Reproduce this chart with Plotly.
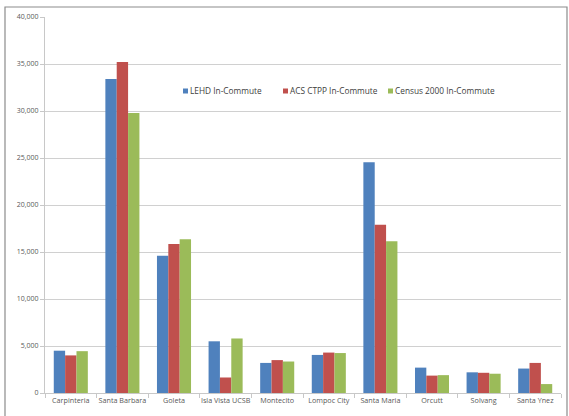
import plotly.graph_objects as go

places = ["Carpinteria", "Santa Barbara", "Goleta", "Isla Vista UCSB", "Montecito",
          "Lompoc City", "Santa Maria", "Orcutt", "Solvang", "Santa Ynez"]
lehd = [4500, 33400, 14600, 5500, 3200, 4050, 24550, 2700, 2200, 2600]
acs_ctpp = [4000, 35200, 15850, 1650, 3500, 4300, 17900, 1850, 2150, 3200]
census_2000 = [4450, 29800, 16350, 5800, 3350, 4250, 16150, 1900, 2050, 950]
y_ticks = list(range(0, 40001, 5000))

series = [("LEHD In-Commute", lehd, "#4F81BD"),
          ("ACS CTPP In-Commute", acs_ctpp, "#C0504D"),
          ("Census 2000 In-Commute", census_2000, "#9BBB59")]

W, H = 569, 416
ml, mr, mt, mb = 45, 8, 17, 23
pw, ph = W - ml - mr, H - mt - mb

fig = go.Figure()
for name, vals, col in series:
    fig.add_trace(go.Bar(x=places, y=vals, name=name, marker_color=col,
                         marker_line_width=0, showlegend=False))


def px_x(p):
    return (p - ml) / pw


def px_y(p):
    return 1 - (p - mt) / ph


# outer chart frame
fig.add_shape(type="rect", xref="paper", yref="paper",
              x0=px_x(5), x1=px_x(567), y0=px_y(420), y1=px_y(7),
              line=dict(color="#8c8c8c", width=1.2), fillcolor="rgba(0,0,0,0)",
              layer="below")

# legend: small colour keys followed by the series names
legend_left = [183, 283, 388]
legend_mid = 91
for (name, _, col), lx in zip(series, legend_left):
    fig.add_shape(type="rect", xref="paper", yref="paper",
                  x0=px_x(lx), x1=px_x(lx + 5),
                  y0=px_y(legend_mid + 2.5), y1=px_y(legend_mid - 2.5),
                  line_width=0, fillcolor=col)
    fig.add_annotation(xref="paper", yref="paper", x=px_x(lx + 5), y=px_y(legend_mid),
                       xanchor="left", yanchor="middle", showarrow=False,
                       text=name, font=dict(size=8.3, color="#404040"))

font_family = "Open Sans, Liberation Sans, sans-serif"
fig.update_layout(
    width=W, height=H,
    margin=dict(l=ml, r=mr, t=mt, b=mb, autoexpand=False),
    paper_bgcolor="white", plot_bgcolor="white",
    barmode="group", bargap=0.34, bargroupgap=0,
    showlegend=False,
    font=dict(family=font_family, size=7, color="#595959"),
    yaxis=dict(range=[0, 40000], tickvals=y_ticks,
               ticktext=[f"{v:,}" for v in y_ticks],
               showgrid=True, gridcolor="#d0d0d0", gridwidth=1,
               showline=True, linecolor="#c8c8c8", linewidth=1,
               ticks="outside", ticklen=4, tickcolor="#c8c8c8",
               zeroline=False, tickfont=dict(size=7, color="#595959")),
    xaxis=dict(range=[-0.5, 9.5], showline=True, linecolor="#c8c8c8", linewidth=1,
               ticks="outside", ticklen=4, tickcolor="#c8c8c8",
               tickson="boundaries", tickangle=0,
               tickfont=dict(size=7.2, color="#595959")),
)

fig.write_html("out.html")
